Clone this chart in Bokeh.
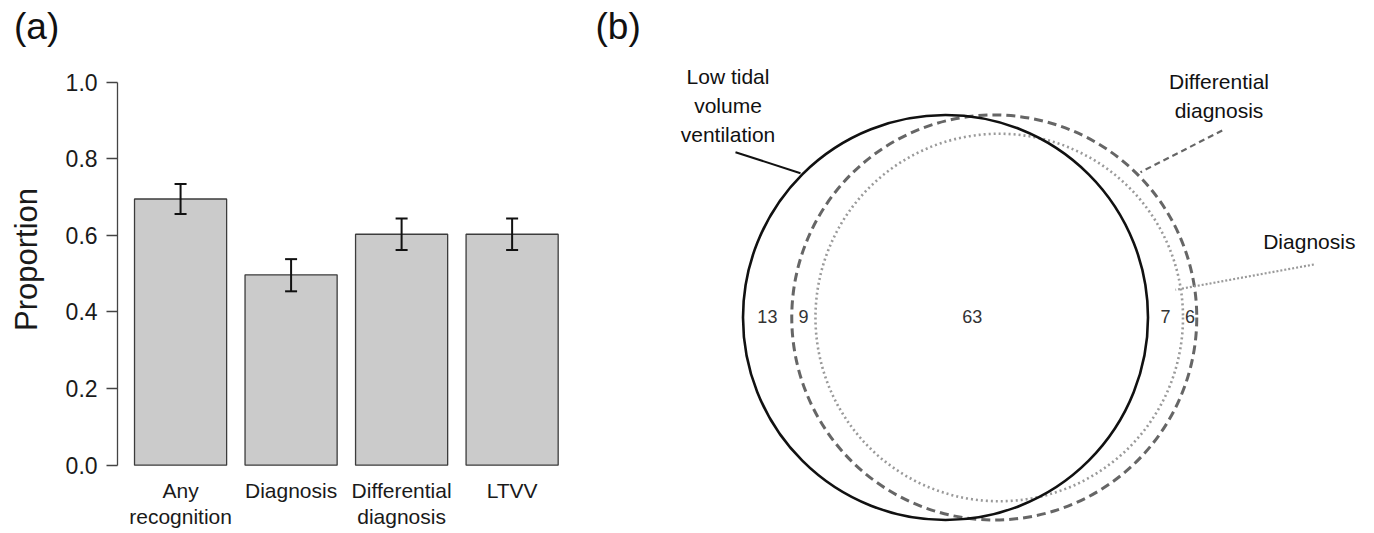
import numpy as np
from bokeh.plotting import figure
from bokeh.layouts import row
from bokeh.models import (ColumnDataSource, Range1d, Whisker, TeeHead, LinearAxis,
                          FixedTicker, PrintfTickFormatter)
from bokeh.embed import file_html
from bokeh.resources import INLINE
from bokeh.core.properties import value

# ---------------- data ----------------
categories = ["Any\nrecognition", "Diagnosis", "Differential\ndiagnosis", "LTVV"]
proportion = [0.695, 0.497, 0.603, 0.603]
err_lower = [0.656, 0.454, 0.562, 0.562]
err_upper = [0.734, 0.538, 0.644, 0.644]
y_ticks = [0.0, 0.2, 0.4, 0.6, 0.8, 1.0]

set_labels = ["Low tidal\nvolume\nventilation", "Differential\ndiagnosis", "Diagnosis"]
only_ltvv = 13        # LTVV only
ltvv_dd = 9           # LTVV & differential diagnosis, no diagnosis
all_three = 63        # all three
dd_diag = 7           # differential diagnosis & diagnosis, no LTVV
only_dd = 6           # differential diagnosis only

FONT = "Liberation Sans"
H = 528

# ---------------- panel (a) ----------------
# barplot layout: bar width 1, gap 0.2 (as in R's barplot)
bar_x = [round(0.7 + 1.2 * i, 6) for i in range(len(categories))]
src = ColumnDataSource(dict(x=bar_x, prop=proportion, lo=err_lower, hi=err_upper))

p1 = figure(x_range=Range1d(-1.2552, 5.151), y_range=Range1d(-0.1653, 1.2133),
            width=590, height=H, output_backend="svg", toolbar_location=None,
            min_border=0, min_border_left=0, min_border_right=0,
            min_border_top=0, min_border_bottom=0)
p1.outline_line_color = None
p1.grid.grid_line_color = None
p1.background_fill_color = "white"

p1.vbar(x="x", top="prop", bottom=0, width=1.0, source=src,
        fill_color="#cbcbcb", line_color="#3c3c3c", line_width=1.3)

wh = Whisker(base="x", lower="lo", upper="hi", source=src, dimension="height",
             line_color="#111111", line_width=2, level="overlay",
             upper_head=TeeHead(size=12, line_color="#111111", line_width=2),
             lower_head=TeeHead(size=12, line_color="#111111", line_width=2))
p1.add_layout(wh)


def style_y(ax):
    ax.fixed_location = 0.016
    ax.ticker = FixedTicker(ticks=y_ticks)
    ax.formatter = PrintfTickFormatter(format="%.1f")
    ax.minor_tick_line_color = None
    ax.major_tick_out = 11
    ax.major_tick_in = 0
    ax.major_label_text_font = FONT
    ax.major_label_text_font_size = "23px"
    ax.major_label_text_color = "#1a1a1a"
    ax.major_label_standoff = 9


ya = p1.yaxis[0]
style_y(ya)
ya.bounds = (0, 1)
ya.axis_line_color = "#444444"
ya.axis_line_width = 1.3
ya.major_tick_line_color = "#444444"
ya.major_tick_line_width = 1.3

# companion axis carrying only the title (centred like the reference)
ya_title = LinearAxis()
style_y(ya_title)
ya_title.bounds = (0, 1.075)
ya_title.axis_line_color = None
ya_title.major_tick_line_color = None
ya_title.major_label_text_alpha = 0
ya_title.axis_label = "Proportion"
ya_title.axis_label_text_font = FONT
ya_title.axis_label_text_font_size = "31px"
ya_title.axis_label_text_font_style = "normal"
ya_title.axis_label_text_color = "#1a1a1a"
ya_title.axis_label_standoff = 63
p1.add_layout(ya_title, "left")

xa = p1.xaxis[0]
xa.fixed_location = -0.0373
xa.ticker = FixedTicker(ticks=bar_x)
xa.major_label_overrides = {bx: c for bx, c in zip(bar_x, categories)}
xa.axis_line_color = None
xa.major_tick_line_color = None
xa.minor_tick_line_color = None
xa.major_tick_out = 0
xa.major_tick_in = 0
xa.major_label_text_font = FONT
xa.major_label_text_font_size = "21px"
xa.major_label_text_color = "#1a1a1a"
xa.major_label_text_line_height = 1.1
xa.major_label_standoff = 0

p1.text(x=[-1.1086], y=[1.1455], text=["(a)"], text_font=value(FONT),
        text_font_size="37px", text_color="#111111", text_baseline="alphabetic",
        text_align="left")

# ---------------- panel (b) : area-proportional Venn ----------------
n_ltvv = only_ltvv + ltvv_dd + all_three
n_dd = ltvv_dd + all_three + dd_diag + only_dd
n_diag = all_three + dd_diag

R_PX = 202.5                       # radius of the LTVV circle on screen
unit = np.pi * R_PX ** 2 / n_ltvv  # screen area per participant
r_ltvv = np.sqrt(n_ltvv * unit / np.pi)
r_dd = np.sqrt(n_dd * unit / np.pi)
r_diag = np.sqrt(n_diag * unit / np.pi)


def lens_area(r1, r2, d):
    if d >= r1 + r2:
        return 0.0
    if d <= abs(r1 - r2):
        return np.pi * min(r1, r2) ** 2
    a1 = r1 ** 2 * np.arccos((d * d + r1 * r1 - r2 * r2) / (2 * d * r1))
    a2 = r2 ** 2 * np.arccos((d * d + r2 * r2 - r1 * r1) / (2 * d * r2))
    a3 = 0.5 * np.sqrt((-d + r1 + r2) * (d + r1 - r2) * (d - r1 + r2) * (d + r1 + r2))
    return a1 + a2 - a3


def solve_distance(r1, r2, target):
    lo, hi = abs(r1 - r2), r1 + r2
    for _ in range(200):
        mid = 0.5 * (lo + hi)
        if lens_area(r1, r2, mid) > target:
            lo = mid
        else:
            hi = mid
    return 0.5 * (lo + hi)


x_ltvv = 0.0
x_dd = solve_distance(r_ltvv, r_dd, (ltvv_dd + all_three) * unit)
x_diag = solve_distance(r_ltvv, r_diag, all_three * unit)

p2 = figure(x_range=Range1d(-355, 421), y_range=Range1d(-(H - 317), 317),
            width=776, height=H, output_backend="svg", toolbar_location=None,
            x_axis_location=None, y_axis_location=None, min_border=0,
            min_border_left=0, min_border_right=0, min_border_top=0, min_border_bottom=0)
p2.outline_line_color = None
p2.grid.grid_line_color = None
p2.background_fill_color = "white"

p2.circle(x=[x_diag], y=[0], radius=r_diag, fill_color=None,
          line_color="#9a9a9a", line_width=2.6, line_dash="2 3")
p2.circle(x=[x_dd], y=[0], radius=r_dd, fill_color=None,
          line_color="#666666", line_width=3, line_dash="9 5")
p2.circle(x=[x_ltvv], y=[0], radius=r_ltvv, fill_color=None,
          line_color="#111111", line_width=2.6)

# region counts placed between circle boundaries on the centre line
left_ltvv, left_dd, left_diag = x_ltvv - r_ltvv, x_dd - r_dd, x_diag - r_diag
right_ltvv, right_dd, right_diag = x_ltvv + r_ltvv, x_dd + r_dd, x_diag + r_diag
count_x = [(left_ltvv + left_dd) / 2, (left_dd + left_diag) / 2, (x_ltvv + x_diag) / 2,
           (right_ltvv + right_diag) / 2, (right_diag + right_dd) / 2]
count_txt = [str(v) for v in [only_ltvv, ltvv_dd, all_three, dd_diag, only_dd]]
p2.text(x=count_x, y=[1.5] * 5, text=count_txt, text_font=value(FONT),
        text_font_size="18px", text_color="#333333",
        text_align="center", text_baseline="middle")

# set labels and leader lines
p2.text(x=[-217.5], y=[252.3], text=[set_labels[0]], text_font=value(FONT),
        text_font_size="21px", text_color="#111111", text_align="center",
        text_baseline="top", text_line_height=1.25)
p2.text(x=[273.5], y=[247.3], text=[set_labels[1]], text_font=value(FONT),
        text_font_size="21px", text_color="#111111", text_align="center",
        text_baseline="top", text_line_height=1.25)
p2.text(x=[363.8], y=[87.3], text=[set_labels[2]], text_font=value(FONT),
        text_font_size="21px", text_color="#111111", text_align="center",
        text_baseline="top", text_line_height=1.25)

p2.segment(x0=[-210], y0=[165.3], x1=[-145], y1=[144.3], line_color="#111111", line_width=2)
p2.segment(x0=[276.7], y0=[187], x1=[195], y1=[145.3], line_color="#666666",
           line_width=2.2, line_dash="6 4")
p2.segment(x0=[368.3], y0=[53], x1=[230], y1=[27.7], line_color="#9a9a9a",
           line_width=2.2, line_dash="2 2")

p2.text(x=[-350], y=[291], text=["(b)"], text_font=value(FONT), text_font_size="37px",
        text_color="#111111", text_baseline="alphabetic", text_align="left")

layout = row(p1, p2, spacing=0)
open("out.html", "w").write(file_html(layout, INLINE))
